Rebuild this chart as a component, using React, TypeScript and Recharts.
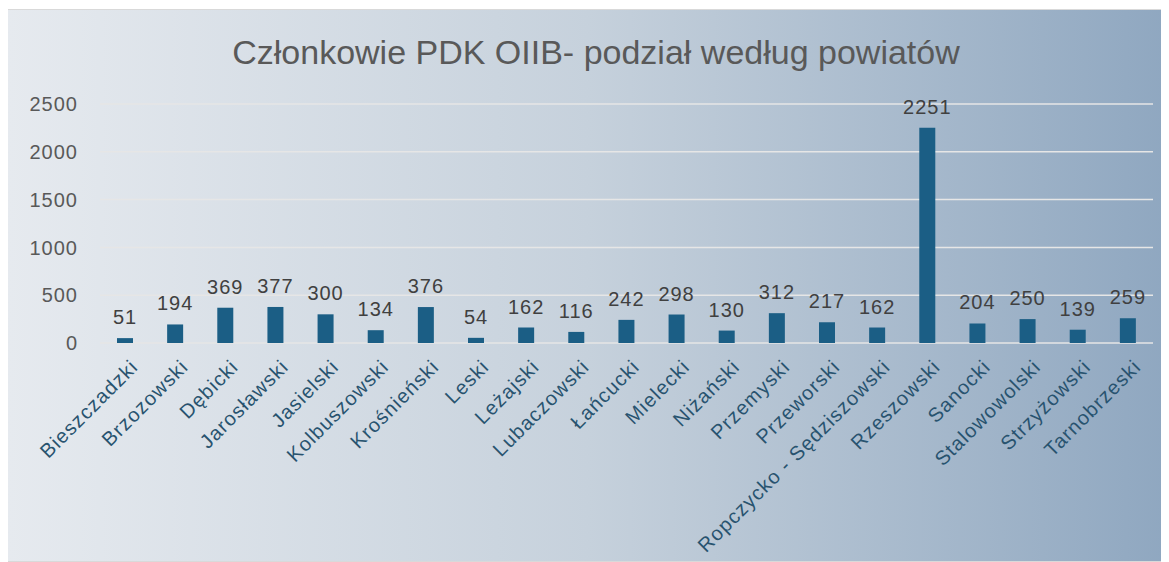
import { Bar, BarChart, CartesianGrid, LabelList, XAxis, YAxis } from "recharts"

const POWIATY = [
  "Bieszczadzki",
  "Brzozowski",
  "Dębicki",
  "Jarosławski",
  "Jasielski",
  "Kolbuszowski",
  "Krośnieński",
  "Leski",
  "Leżajski",
  "Lubaczowski",
  "Łańcucki",
  "Mielecki",
  "Niżański",
  "Przemyski",
  "Przeworski",
  "Ropczycko - Sędziszowski",
  "Rzeszowski",
  "Sanocki",
  "Stalowowolski",
  "Strzyżowski",
  "Tarnobrzeski",
]

const CZLONKOWIE = [51, 194, 369, 377, 300, 134, 376, 54, 162, 116, 242, 298, 130, 312, 217, 162, 2251, 204, 250, 139, 259]

const Y_TICKS = [0, 500, 1000, 1500, 2000, 2500]

const FONT = "'Liberation Sans', Arial, sans-serif"

function PowiatTick({ x, y, payload }: any) {
  const tx = x + 4
  const ty = y + 7
  return (
    <text
      x={tx}
      y={ty}
      transform={`rotate(-45, ${tx}, ${ty})`}
      textAnchor="end"
      dominantBaseline="hanging"
      fontSize={20}
      letterSpacing={1.1}
      fontFamily={FONT}
      fill="#28536f"
    >
      {payload.value}
    </text>
  )
}

export default function App() {
  const data = POWIATY.map((name, i) => ({ name, value: CZLONKOWIE[i] }))

  return (
    <div
      style={{
        position: "relative",
        width: 1162,
        height: 553,
        marginLeft: -1,
        marginTop: 1,
        border: "1px solid #d9d9d9",
        boxSizing: "border-box",
        background: "linear-gradient(90deg, #e6eaef 0%, #c6d1dc 50%, #8fa7c0 100%)",
      }}
    >
      <div
        style={{
          position: "absolute",
          left: 16,
          right: 0,
          top: 23,
          textAlign: "center",
          fontFamily: FONT,
          fontSize: 34,
          color: "#595959",
        }}
      >
        Członkowie PDK OIIB- podział według powiatów
      </div>
      <BarChart
        width={1160}
        height={551}
        data={data}
        margin={{ top: 94, right: 15, left: 0, bottom: 0 }}
        style={{ position: "absolute", left: 0, top: 0 }}
      >
        <CartesianGrid vertical={false} stroke="#e6e6e6" strokeWidth={1.5} />
        <XAxis
          dataKey="name"
          interval={0}
          axisLine={false}
          tickLine={false}
          height={218}
          tick={<PowiatTick />}
        />
        <YAxis
          domain={[0, 2500]}
          ticks={Y_TICKS}
          width={92}
          axisLine={false}
          tickLine={false}
          tickSize={0}
          tickMargin={22}
          tick={{ fontSize: 20, fill: "#595959", fontFamily: FONT, letterSpacing: 1 }}
        />
        <Bar dataKey="value" fill="#1b5e85" barSize={16} isAnimationActive={false}>
          <LabelList
            dataKey="value"
            position="top"
            offset={14}
            fontSize={20}
            letterSpacing={1}
            fill="#404040"
            fontFamily={FONT}
          />
        </Bar>
      </BarChart>
    </div>
  )
}
